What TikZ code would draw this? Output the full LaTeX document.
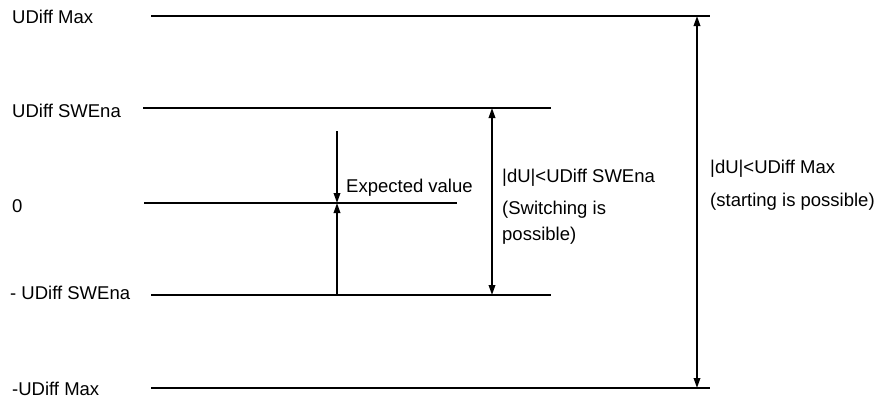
\documentclass[tikz,border=0pt]{standalone}
\usepackage{fontspec}
\setmainfont{Liberation Sans}
\usetikzlibrary{arrows.meta}
\begin{document}
\begin{tikzpicture}[x=1pt,y=-1pt,
  lvl/.style={line width=2pt},
  arr/.style={line width=1.8pt,-{Triangle[length=10pt,width=6.5pt]}},
  darr/.style={line width=1.8pt,{Triangle[length=10pt,width=6.5pt]}-{Triangle[length=10pt,width=6.5pt]}},
  lbl/.style={anchor=base west,inner sep=0pt,font=\fontsize{18.5}{22}\selectfont}]
\useasboundingbox (0,0) rectangle (879,399);
% level lines
\coordinate (maxL) at (151,16);  \coordinate (maxR) at (710,16);
\coordinate (swL) at (143,108);  \coordinate (swR) at (551,108);
\coordinate (zL) at (144,203);   \coordinate (zR) at (457,203);
\coordinate (nswL) at (151,295); \coordinate (nswR) at (551,295);
\coordinate (nmaxL) at (151,388); \coordinate (nmaxR) at (710,388);
\draw[lvl] (maxL) -- (maxR);
\draw[lvl] (swL) -- (swR);
\draw[lvl] (zL) -- (zR);
\draw[lvl] (nswL) -- (nswR);
\draw[lvl] (nmaxL) -- (nmaxR);
% left labels
\node[lbl] (tmax) at (12,23) {UDiff Max};
\node[lbl] (tsw) at (12,117) {UDiff SWEna};
\node[lbl] (tz) at (12,212) {0};
\node[lbl] (tnsw) at (10,299) {- UDiff SWEna};
\node[lbl] (tnmax) at (12,395) {-UDiff Max};
% expected value arrows
\coordinate (evTop) at (337,131);
\coordinate (evMid) at (337,203);
\coordinate (evBot) at (337,295);
\draw[arr] (evTop) -- (evMid);
\draw[arr] (evBot) -- (evMid);
\node[lbl] (tev) at (346,192) {Expected value};
% switching range
\coordinate (swA) at (492,108);
\coordinate (swB) at (492,295);
\draw[darr] (swA) -- (swB);
\node[lbl] (tsw1) at (502,182) {|dU|<UDiff SWEna};
\node[lbl] (tsw2) at (502,214) {(Switching is};
\node[lbl] (tsw3) at (502,240) {possible)};
% max range
\coordinate (mxA) at (697,16);
\coordinate (mxB) at (697,388);
\draw[darr] (mxA) -- (mxB);
\node[lbl] (tmx1) at (710,173) {|dU|<UDiff Max};
\node[lbl] (tmx2) at (710,206) {(starting is possible)};
\end{tikzpicture}
\end{document}
